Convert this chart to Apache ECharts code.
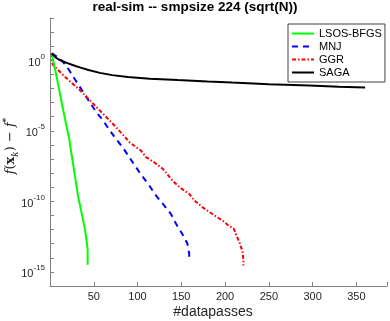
<!DOCTYPE html>
<html>
<head>
<meta charset="utf-8">
<script src="https://cdn.jsdelivr.net/npm/echarts@6/dist/echarts.min.js"></script>
<style>
  html, body { margin: 0; padding: 0; background: #fff; }
  #chart { width: 390px; height: 321px; }
</style>
</head>
<body>
<div id="chart"></div>
<script>
// datapasses (x) and log10 of f(x_k) - f* (y)
const lsosX = [2, 9, 15, 22, 26, 32, 36, 40, 42, 43, 43];
const lsosExp = [0.5, -1.6, -3.5, -5.6, -7.2, -9.6, -10.8, -12.0, -12.9, -13.4, -14.5];

const mnjX = [2, 8, 14, 20, 29, 42, 52, 61, 67, 74, 83, 97, 105, 114, 121, 129, 138, 144, 151, 157, 159, 159];
const mnjExp = [0.5, 0.25, -0.05, -0.52, -1.4, -2.65, -3.6, -4.3, -4.85, -5.46, -6.17, -7.47, -8.18, -8.93, -9.58, -10.18, -10.88, -11.59, -12.3, -13.0, -13.7, -14.06];

const ggrX = [2, 3, 7, 18, 33, 48, 63, 74, 86, 91, 104, 110, 119, 129, 140, 148, 159, 165, 174, 185, 197, 204, 210, 213, 217, 220, 221, 221];
const ggrExp = [0.5, -0.3, -0.55, -1.22, -2.05, -2.99, -3.94, -4.64, -5.46, -5.82, -6.41, -6.88, -7.23, -7.7, -8.53, -9.0, -9.47, -9.94, -10.41, -10.88, -11.36, -11.71, -11.94, -12.42, -13.0, -13.59, -14.18, -14.54];

const sagaX = [2, 4, 7, 10, 15, 20, 25, 30, 35, 44, 57, 71, 89, 114, 146, 180, 208, 250, 296, 330, 360];
const sagaExp = [0.5, 0.35, 0.18, 0.06, -0.08, -0.2, -0.31, -0.42, -0.52, -0.69, -0.89, -1.05, -1.18, -1.3, -1.4, -1.5, -1.58, -1.69, -1.79, -1.87, -1.93];

const xTicks = [50, 100, 150, 200, 250, 300, 350];
const yLabelExps = [0, -5, -10, -15];

function pairs(xs, es) {
  return xs.map((x, i) => [x, Math.pow(10, es[i])]);
}

const chart = echarts.init(document.getElementById('chart'));
const font = 'Liberation Sans, Arial, sans-serif';
const axisGray = '#808080';
const textCol = '#262626';

chart.setOption({
  animation: false,
  textStyle: { fontFamily: font },
  title: {
    text: 'real-sim -- smpsize 224 (sqrt(N))',
    left: 'center',
    top: 0,
    padding: [0, 0, 0, 4],
    textStyle: { fontSize: 13.5, fontWeight: 'bold', color: '#000', fontFamily: font },
  },
  legend: {
    orient: 'vertical',
    left: 288,
    top: 24,
    itemWidth: 22,
    itemHeight: 11,
    itemGap: 2,
    padding: [4, 3, 4, 3],
    borderColor: '#404040',
    borderWidth: 1,
    backgroundColor: '#fff',
    itemStyle: { opacity: 0 },
    textStyle: { fontSize: 11, color: '#000', fontFamily: font },
    data: ['LSOS-BFGS', 'MNJ', 'GGR', 'SAGA'],
  },
  grid: { left: 50, right: 0, top: 18, bottom: 35 },
  xAxis: {
    type: 'value',
    min: 0,
    max: 385,
    interval: 50,
    splitLine: { show: false },
    axisLine: { lineStyle: { color: axisGray } },
    axisTick: { inside: true, length: 4, lineStyle: { color: axisGray } },
    axisLabel: {
      color: textCol,
      fontSize: 11,
      margin: 5,
      formatter: v => (xTicks.indexOf(v) >= 0 ? String(v) : ''),
    },
  },
  yAxis: {
    type: 'log',
    logBase: 10,
    min: 1e-16,
    max: 1e3,
    interval: 1,
    splitLine: { show: false },
    axisLine: { show: true, lineStyle: { color: axisGray } },
    axisTick: { show: true, inside: true, length: 4, lineStyle: { color: axisGray } },
    axisLabel: {
      color: textCol,
      margin: 5,
      formatter: v => {
        const e = Math.round(Math.log10(v));
        if (yLabelExps.indexOf(e) < 0) return '';
        return '{b|10}{s|' + e + '}';
      },
      rich: {
        b: { fontSize: 11, color: textCol, verticalAlign: 'bottom', lineHeight: 16 },
        s: { fontSize: 8, color: textCol, verticalAlign: 'top', lineHeight: 16 },
      },
    },
  },
  graphic: [
    {
      type: 'text',
      x: 11,
      y: 146,
      rotation: Math.PI / 2,
      style: {
        text: '{i|f}{n|(}{bx|x}{sub|k}{n|) − }{i|f}{sup|*}',
        align: 'center',
        verticalAlign: 'middle',
        rich: {
          i: { fontFamily: 'DejaVu Serif', fontStyle: 'italic', fontSize: 13, fill: textCol, verticalAlign: 'middle', lineHeight: 18 },
          n: { fontFamily: 'DejaVu Serif', fontSize: 13, fill: textCol, verticalAlign: 'middle', lineHeight: 18 },
          bx: { fontFamily: 'DejaVu Serif', fontWeight: 'bold', fontSize: 13, fill: textCol, verticalAlign: 'middle', lineHeight: 18 },
          sub: { fontFamily: 'DejaVu Serif', fontStyle: 'italic', fontSize: 9, fill: textCol, verticalAlign: 'bottom', lineHeight: 18 },
          sup: { fontFamily: 'DejaVu Serif', fontSize: 9, fill: textCol, verticalAlign: 'top', lineHeight: 18 },
        },
      },
    },
    {
      type: 'text',
      x: 213,
      y: 312,
      style: {
        text: '#datapasses',
        align: 'center',
        verticalAlign: 'middle',
        font: '14px ' + font,
        fill: textCol,
      },
    },
  ],
  series: [
    {
      name: 'LSOS-BFGS',
      type: 'line',
      symbol: 'none',
      z: 4,
      lineStyle: { color: '#00ff00', width: 2 },
      itemStyle: { color: '#00ff00' },
      data: pairs(lsosX, lsosExp),
    },
    {
      name: 'MNJ',
      type: 'line',
      symbol: 'none',
      z: 3,
      lineStyle: { color: '#0000ff', width: 2, type: [6, 5] },
      itemStyle: { color: '#0000ff' },
      data: pairs(mnjX, mnjExp),
    },
    {
      name: 'GGR',
      type: 'line',
      symbol: 'none',
      z: 3,
      lineStyle: { color: '#ff0000', width: 2, type: [4, 2, 1.5, 2] },
      itemStyle: { color: '#ff0000' },
      data: pairs(ggrX, ggrExp),
    },
    {
      name: 'SAGA',
      type: 'line',
      symbol: 'none',
      z: 5,
      lineStyle: { color: '#000000', width: 2 },
      itemStyle: { color: '#000000' },
      data: pairs(sagaX, sagaExp),
    },
  ],
});
</script>
</body>
</html>
